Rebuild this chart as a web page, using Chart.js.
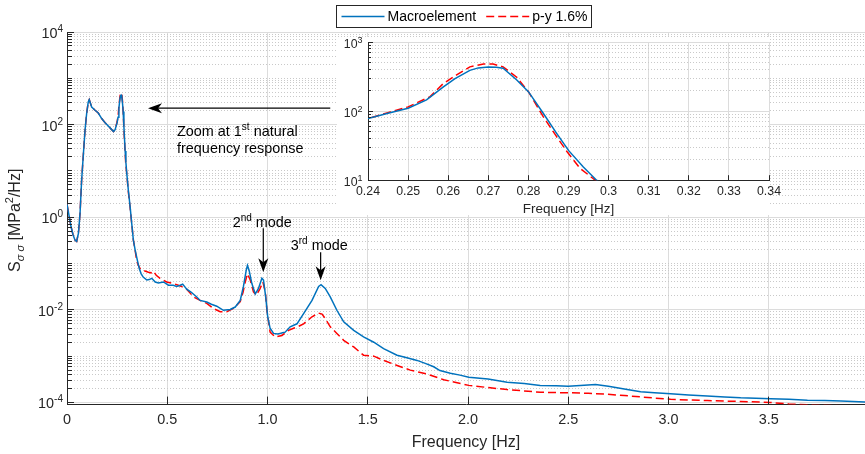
<!DOCTYPE html>
<html>
<head>
<meta charset="utf-8">
<title>Stress PSD</title>
<script src="https://cdn.jsdelivr.net/npm/chart.js@4.4.1/dist/chart.umd.min.js"></script>
<style>
  body { margin: 0; background: #fff; }
  #fig { position: relative; width: 865px; height: 454px; overflow: hidden; }
  #fig canvas { position: absolute; }
  #psdChart { left: 0; top: 0; }
  #zoomChart { left: 337px; top: 37px; }
</style>
</head>
<body>
<div id="fig">
  <canvas id="psdChart" width="865" height="454"></canvas>
  <canvas id="zoomChart" width="450" height="181"></canvas>
</div>
<script>
// frequency [Hz] and PSD [MPa^2/Hz], macroelement model
const macroFreq = [0, 0.01, 0.02, 0.03, 0.04, 0.048, 0.057, 0.065, 0.073, 0.082, 0.09, 0.098, 0.106, 0.111, 0.123, 0.14, 0.156, 0.173, 0.19, 0.206, 0.223, 0.232,
  0.24, 0.245, 0.25, 0.2546, 0.2588, 0.2617, 0.2654, 0.2675, 0.27, 0.272, 0.2737, 0.2771, 0.28, 0.2837, 0.287, 0.29, 0.2937, 0.297,
  0.306, 0.315, 0.323, 0.331, 0.34, 0.351, 0.36, 0.37, 0.38, 0.398, 0.41, 0.423, 0.44, 0.456, 0.481, 0.506, 0.53, 0.547, 0.565, 0.577,
  0.597, 0.62, 0.647, 0.664, 0.697, 0.72, 0.747, 0.78, 0.814, 0.839, 0.864, 0.88, 0.894, 0.9, 0.908, 0.922, 0.939, 0.955, 0.972, 0.98,
  0.991, 1.001, 1.013, 1.03, 1.05, 1.063, 1.075, 1.088, 1.113, 1.147, 1.18, 1.222, 1.255, 1.267, 1.288, 1.313, 1.346, 1.38, 1.43, 1.479,
  1.53, 1.579, 1.646, 1.7, 1.746, 1.79, 1.829, 1.86, 1.912, 1.96, 2.004, 2.1, 2.195, 2.28, 2.36, 2.44, 2.5, 2.56, 2.636, 2.7,
  2.794, 2.861, 2.93, 3.01, 3.1, 3.193, 3.28, 3.36, 3.51, 3.6, 3.693, 3.78, 3.86, 3.984];
const macroPsd = [1.9, 1.1, 0.63, 0.42, 0.32, 0.30, 0.45, 1.2, 6.3, 24, 76, 174, 309, 347, 240, 204, 178, 135, 110, 93, 78, 71,
  78, 93, 110, 145, 224, 295, 389, 422, 436, 431, 417, 282, 191, 93, 48, 27, 15.5, 10,
  3.8, 1.66, 0.72, 0.32, 0.195, 0.117, 0.079, 0.060, 0.051, 0.044, 0.045, 0.048, 0.040, 0.038, 0.040, 0.034, 0.034, 0.032, 0.034, 0.036,
  0.028, 0.024, 0.019, 0.016, 0.0148, 0.0132, 0.012, 0.0098, 0.0102, 0.0115, 0.016, 0.032, 0.072, 0.091, 0.072, 0.037, 0.022, 0.029, 0.048, 0.044,
  0.019, 0.0071, 0.0040, 0.0031, 0.0030, 0.0031, 0.0032, 0.0033, 0.0043, 0.0050, 0.0083, 0.016, 0.032, 0.035, 0.029, 0.019, 0.0098, 0.0055, 0.0036, 0.0026,
  0.0020, 0.00145, 0.00105, 0.00091, 0.00081, 0.00069, 0.00059, 0.00049, 0.00043, 0.00039, 0.00035, 0.00032, 0.000275, 0.000257, 0.000234, 0.000229, 0.000224, 0.000234, 0.000245, 0.000224,
  0.000191, 0.00017, 0.000162, 0.000155, 0.000145, 0.000138, 0.000132, 0.000126, 0.00012, 0.000117, 0.000112, 0.00011, 0.000107, 0.000102];

// p-y springs, 1.6% damping
const pyFreq = [0, 0.01, 0.02, 0.03, 0.04, 0.048, 0.057, 0.065, 0.073, 0.082, 0.09, 0.098, 0.106, 0.111, 0.123, 0.14, 0.156, 0.173, 0.19, 0.206, 0.223, 0.232,
  0.24, 0.245, 0.25, 0.2555, 0.2588, 0.262, 0.2654, 0.2688, 0.2712, 0.2737, 0.2771, 0.28, 0.2837, 0.287, 0.2896, 0.2929, 0.2962,
  0.306, 0.315, 0.323, 0.331, 0.34, 0.348, 0.356, 0.364, 0.376, 0.389, 0.406, 0.42, 0.431, 0.445, 0.464, 0.48, 0.497, 0.531, 0.555, 0.572,
  0.597, 0.631, 0.664, 0.697, 0.73, 0.764, 0.797, 0.83, 0.864, 0.878, 0.889, 0.9, 0.914, 0.93, 0.944, 0.961, 0.977, 0.989, 0.997,
  1.013, 1.038, 1.072, 1.105, 1.13, 1.155, 1.18, 1.222, 1.255, 1.272, 1.288, 1.313, 1.346, 1.38, 1.43, 1.479, 1.53, 1.579, 1.646,
  1.712, 1.796, 1.879, 1.94, 2.004, 2.1, 2.195, 2.28, 2.361, 2.503, 2.6, 2.695, 2.78, 2.861, 3.01, 3.193, 3.36, 3.51, 3.6, 3.69, 3.86, 3.984];
const pyPsd = [1.9, 1.1, 0.63, 0.42, 0.32, 0.30, 0.45, 1.2, 6.3, 24, 76, 174, 309, 347, 240, 204, 178, 135, 110, 93, 78, 71,
  78, 95, 115, 162, 251, 331, 437, 479, 479, 437, 309, 191, 83, 43, 26, 14.8, 10.5,
  3.5, 1.58, 0.72, 0.32, 0.19, 0.112, 0.091, 0.079, 0.072, 0.069, 0.065, 0.063, 0.068, 0.056, 0.048, 0.044, 0.040, 0.037, 0.034, 0.032,
  0.028, 0.019, 0.016, 0.0138, 0.0107, 0.0091, 0.0091, 0.0107, 0.015, 0.024, 0.040, 0.060, 0.044, 0.0245, 0.021, 0.0275, 0.040, 0.0245, 0.0098,
  0.0033, 0.0026, 0.0028, 0.0036, 0.0040, 0.0044, 0.0050, 0.0071, 0.0085, 0.0081, 0.0065, 0.0043, 0.0031, 0.0022, 0.00158, 0.00105, 0.00100, 0.00081, 0.00063,
  0.0005, 0.00041, 0.00031, 0.00027, 0.000234, 0.00021, 0.00019, 0.000178, 0.000166, 0.000162, 0.000158, 0.000151, 0.000141, 0.000132, 0.000117, 0.00011, 0.000105, 0.0001, 0.000093, 0.000089, 0.000085, 0.000083];

const xTicks = [0, 0.5, 1, 1.5, 2, 2.5, 3, 3.5];
const yDecades = [-4, -2, 0, 2, 4];          // labelled powers of ten
const zoomXTicks = [0.24, 0.25, 0.26, 0.27, 0.28, 0.29, 0.3, 0.31, 0.32, 0.33, 0.34];
const zoomDecades = [1, 2, 3];

const FONT = '"Liberation Sans", Arial, Helvetica, sans-serif';
const AXIS = '#262626';
Chart.defaults.font.family = FONT;
Chart.defaults.color = AXIS;

function toPoints(f, v) {
  return f.map((x, i) => ({ x: x, y: v[i] }));
}

// 1..9 x 10^e steps between two exponents, decades flagged
function logGrid(lo, hi) {
  const ticks = [];
  for (let e = lo; e < hi; e++) {
    for (let k = 1; k < 10; k++) ticks.push({ value: k * Math.pow(10, e), decade: k === 1 ? e : null });
  }
  ticks.push({ value: Math.pow(10, hi), decade: hi });
  return ticks;
}

// text made of runs: [text, size, baseline shift, style]
function drawRich(ctx, parts, x, y, align) {
  const font = p => (p[3] ? p[3] + ' ' : '') + p[1] + 'px ' + FONT;
  let w = 0;
  parts.forEach(p => { ctx.font = font(p); w += ctx.measureText(p[0]).width; });
  let cx = align === 'right' ? x - w : align === 'center' ? x - w / 2 : x;
  ctx.textAlign = 'left';
  parts.forEach(p => {
    ctx.font = font(p);
    ctx.fillText(p[0], cx, y + (p[2] || 0));
    cx += ctx.measureText(p[0]).width;
  });
}

function drawArrow(ctx, x1, y1, x2, y2) {
  const L = 14, W = 5, notch = 4;
  const d = Math.hypot(x2 - x1, y2 - y1), ux = (x2 - x1) / d, uy = (y2 - y1) / d;
  ctx.beginPath();
  ctx.moveTo(x1, y1);
  ctx.lineTo(x2 - ux * (L - notch), y2 - uy * (L - notch));
  ctx.stroke();
  ctx.beginPath();
  ctx.moveTo(x2, y2);
  ctx.lineTo(x2 - ux * L - uy * W, y2 - uy * L + ux * W);
  ctx.lineTo(x2 - ux * (L - notch), y2 - uy * (L - notch));
  ctx.lineTo(x2 - ux * L + uy * W, y2 - uy * L - ux * W);
  ctx.closePath();
  ctx.fill();
}

function gridStyle(major) {
  const isMajor = c => c.tick && major.includes(c.tick.decade);
  return {
    grid: { drawTicks: false, lineWidth: 1, color: c => isMajor(c) ? '#dcdcdc' : '#c9c9c9' },
    border: { color: AXIS, width: 1, dash: c => (c.type === 'tick' && !isMajor(c)) ? [1, 2] : [] }
  };
}

// MATLAB style ticks pointing into the plot
function inwardTicks(major, xLen, yLen, yMinorLen) {
  return {
    id: 'inwardTicks',
    afterDatasetsDraw(chart) {
      const { ctx, chartArea: a, scales: { x, y } } = chart;
      ctx.save();
      ctx.strokeStyle = AXIS;
      ctx.lineWidth = 1;
      ctx.beginPath();
      x.ticks.forEach(t => {
        const px = Math.round(x.getPixelForValue(t.value) - 0.5) + 0.5;
        ctx.moveTo(px, a.bottom);
        ctx.lineTo(px, a.bottom - xLen);
      });
      y.ticks.forEach(t => {
        const py = Math.round(y.getPixelForValue(t.value) - 0.5) + 0.5;
        ctx.moveTo(a.left, py);
        ctx.lineTo(a.left + (major.includes(t.decade) ? yLen : yMinorLen), py);
      });
      ctx.stroke();
      ctx.restore();
    }
  };
}

function decadeLabels(decades, size, supSize, rise, gap) {
  return {
    id: 'decadeLabels',
    afterDraw(chart) {
      const { ctx, chartArea: a, scales: { y } } = chart;
      ctx.save();
      ctx.fillStyle = AXIS;
      ctx.textBaseline = 'alphabetic';
      decades.forEach(e => {
        const py = y.getPixelForValue(Math.pow(10, e));
        drawRich(ctx, [['10', size], [String(e), supSize, -rise]], a.left - gap, py + 6, 'right');
      });
      ctx.restore();
    }
  };
}

const yTitle = {
  id: 'yTitle',
  afterDraw(chart) {
    const { ctx, chartArea: a } = chart;
    ctx.save();
    ctx.translate(20, (a.top + a.bottom) / 2 + 2);
    ctx.rotate(-Math.PI / 2);
    ctx.fillStyle = AXIS;
    ctx.textBaseline = 'alphabetic';
    drawRich(ctx, [['S', 16], ['σ σ', 11, 4, 'italic'], [' [MPa', 16], ['2', 11, -7], ['/Hz]', 16]], 0, 0, 'center');
    ctx.restore();
  }
};

// arrows and notes, placed in data coordinates
const notes = [
  { at: [0.549, 56], align: 'left', parts: [['Zoom at 1', 14.4], ['st', 10, -6], [' natural', 14.4]] },
  { at: [0.549, 24], align: 'left', parts: [['frequency response', 14.4]] },
  { at: [0.974, 0.61], align: 'center', parts: [['2', 14.4], ['nd', 10, -6], [' mode', 14.4]] },
  { at: [1.258, 0.194], align: 'center', parts: [['3', 14.4], ['rd', 10, -6], [' mode', 14.4]] }
];
const arrows = [
  { from: [1.313, 226], to: [0.404, 226] },
  { from: [0.979, 0.58], to: [0.979, 0.065] },
  { from: [1.265, 0.175], to: [1.265, 0.0436] }
];

const callouts = {
  id: 'callouts',
  afterDraw(chart) {
    const { ctx, scales: { x, y } } = chart;
    const px = p => [x.getPixelForValue(p[0]), y.getPixelForValue(p[1])];
    ctx.save();
    ctx.fillStyle = '#000';
    ctx.strokeStyle = '#000';
    ctx.lineWidth = 1.2;
    arrows.forEach(ar => {
      const a = px(ar.from), b = px(ar.to);
      drawArrow(ctx, a[0], a[1], b[0], b[1]);
    });
    ctx.textBaseline = 'alphabetic';
    notes.forEach(n => {
      const p = px(n.at);
      drawRich(ctx, n.parts, p[0], p[1], n.align);
    });
    ctx.restore();
  }
};

const boxedLegend = {
  id: 'boxedLegend',
  afterDraw(chart) {
    const { ctx, chartArea: a } = chart;
    const top = 5.5, height = 22, pad = 5, line = 43, gap = 3, spacing = 10, padEnd = 4;
    ctx.save();
    ctx.font = '14px ' + FONT;
    const items = chart.data.datasets.map(ds => ({ ds: ds, w: ctx.measureText(ds.label).width }));
    const width = Math.round(pad + padEnd + spacing * (items.length - 1) + items.reduce((s, it) => s + line + gap + it.w, 0));
    const left = Math.round((a.left + a.right) / 2 - width / 2 - 3) + 0.5;
    ctx.fillStyle = '#fff';
    ctx.fillRect(left, top, width, height);
    ctx.strokeStyle = AXIS;
    ctx.lineWidth = 1;
    ctx.strokeRect(left, top, width, height);
    const cy = top + height / 2;
    let cx = left + pad;
    items.forEach(it => {
      ctx.strokeStyle = it.ds.borderColor;
      ctx.lineWidth = it.ds.borderWidth;
      ctx.setLineDash(it.ds.borderDash || []);
      ctx.beginPath();
      ctx.moveTo(cx, cy);
      ctx.lineTo(cx + line, cy);
      ctx.stroke();
      ctx.setLineDash([]);
      cx += line + gap;
      ctx.fillStyle = '#000';
      ctx.textBaseline = 'middle';
      ctx.fillText(it.ds.label, cx, cy + 1);
      cx += it.w + spacing;
    });
    ctx.restore();
  }
};

function datasets() {
  return [{
    label: 'Macroelement',
    data: toPoints(macroFreq, macroPsd),
    borderColor: '#0072BD',
    borderWidth: 1.5,
    pointRadius: 0,
    fill: false
  }, {
    label: 'p-y 1.6%',
    data: toPoints(pyFreq, pyPsd),
    borderColor: '#FF0000',
    borderWidth: 1.5,
    borderDash: [8, 4],
    pointRadius: 0,
    fill: false
  }];
}

const mainGrid = gridStyle(yDecades);
const psdChart = new Chart(document.getElementById('psdChart'), {
  type: 'line',
  data: { datasets: datasets() },
  options: {
    responsive: false,
    animation: false,
    events: [],
    layout: { padding: { left: 67, top: 32, right: 0, bottom: 0 } },
    plugins: { legend: { display: false }, tooltip: { enabled: false } },
    scales: {
      x: {
        type: 'linear',
        min: 0,
        max: 3.98,
        afterBuildTicks: s => { s.ticks = xTicks.map(v => ({ value: v })); },
        ticks: { font: { size: 14.4, lineHeight: 1 }, padding: 8, color: AXIS },
        grid: { drawTicks: false, color: '#dcdcdc' },
        border: { color: AXIS },
        title: { display: true, text: 'Frequency [Hz]', font: { size: 16, lineHeight: 1 }, color: AXIS, padding: { top: 0, bottom: 3 } }
      },
      y: {
        type: 'logarithmic',
        min: 9e-5,
        max: 1e4,
        afterBuildTicks: s => { s.ticks = logGrid(-4, 4); },
        ticks: { display: false },
        grid: mainGrid.grid,
        border: mainGrid.border
      }
    }
  },
  plugins: [inwardTicks(yDecades, 8, 7, 5), decadeLabels(yDecades, 14.4, 10, 6, 4), yTitle, callouts, boxedLegend]
});

// zoomed view around the first natural frequency
const whitePanel = {
  id: 'whitePanel',
  beforeDraw(chart) {
    chart.ctx.save();
    chart.ctx.fillStyle = '#fff';
    chart.ctx.fillRect(0, 0, 433, 178);
    chart.ctx.restore();
  }
};

const zoomGrid = gridStyle(zoomDecades);
const zoomChart = new Chart(document.getElementById('zoomChart'), {
  type: 'line',
  data: { datasets: datasets() },
  options: {
    responsive: false,
    animation: false,
    events: [],
    layout: { padding: { left: 31, top: 5, right: 18, bottom: 0 } },
    plugins: { legend: { display: false }, tooltip: { enabled: false } },
    scales: {
      x: {
        type: 'linear',
        min: 0.24,
        max: 0.34,
        afterBuildTicks: s => { s.ticks = zoomXTicks.map(v => ({ value: v })); },
        ticks: { font: { size: 12.3, lineHeight: 1 }, padding: 5, color: AXIS, callback: v => String(+v.toFixed(2)) },
        grid: { drawTicks: false, color: '#dcdcdc' },
        border: { color: AXIS },
        title: { display: true, text: 'Frequency [Hz]', font: { size: 13.5, lineHeight: 1 }, color: AXIS, padding: { top: 0, bottom: 2 } }
      },
      y: {
        type: 'logarithmic',
        min: 10,
        max: 1000,
        afterBuildTicks: s => { s.ticks = logGrid(1, 3); },
        ticks: { display: false },
        grid: zoomGrid.grid,
        border: zoomGrid.border
      }
    }
  },
  plugins: [whitePanel, inwardTicks(zoomDecades, 5, 5, 3), decadeLabels(zoomDecades, 12.3, 9, 5, 5.5)]
});
</script>
</body>
</html>
